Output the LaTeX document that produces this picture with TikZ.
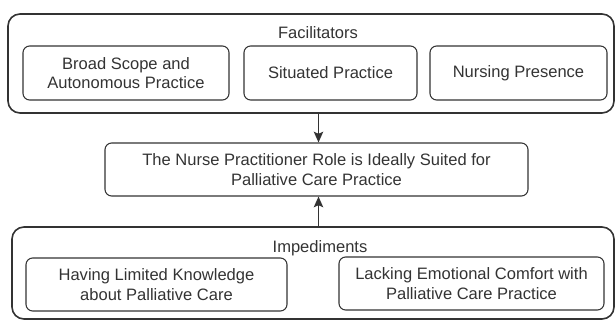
\documentclass[tikz,border=0pt]{standalone}
\usepackage{fontspec}
\setmainfont{Liberation Sans}
\usetikzlibrary{arrows.meta}
\definecolor{ink}{HTML}{333333}
\tikzset{
  outerbox/.style={draw=ink, line width=1.2pt, rounded corners=9pt, inner sep=0pt},
  innerbox/.style={draw=ink, line width=0.8pt, rounded corners=5pt, align=center, inner sep=0pt, text=ink,
    font=\fontsize{12.4pt}{14.6pt}\selectfont},
  lbl/.style={text=ink, font=\fontsize{12.4pt}{14.6pt}\selectfont, inner sep=0pt},
  conn/.style={draw=ink, line width=1.3pt, -{Stealth[length=8pt,width=7pt,inset=1.5pt]}}
}
\begin{document}
\begin{tikzpicture}[x=0.75pt,y=-0.75pt]
\useasboundingbox (0,0) rectangle (615,320);
% Facilitators group
\node[outerbox, minimum width=606*0.75pt, minimum height=99*0.75pt] (fac) at (311,63.5) {};
\node[lbl] (facl) at (318,33) {Facilitators};
\node[innerbox, minimum width=206*0.75pt, minimum height=54*0.75pt] (f1) at (126,73) {Broad Scope and\\Autonomous Practice};
\node[innerbox, minimum width=173*0.75pt, minimum height=54*0.75pt] (f2) at (330.5,73) {Situated Practice};
\node[innerbox, minimum width=177*0.75pt, minimum height=54*0.75pt] (f3) at (518.5,73) {Nursing Presence};
% Middle
\node[innerbox, minimum width=423*0.75pt, minimum height=53*0.75pt] (mid) at (316.5,169.5) {The Nurse Practitioner Role is Ideally Suited for\\Palliative Care Practice};
% Impediments group
\node[outerbox, minimum width=602*0.75pt, minimum height=92*0.75pt] (imp) at (313,273) {};
\node[lbl] (impl) at (320,248) {Impediments};
\node[innerbox, minimum width=261*0.75pt, minimum height=53*0.75pt] (i1) at (156.5,284.5) {Having Limited Knowledge\\about Palliative Care};
\node[innerbox, minimum width=265*0.75pt, minimum height=53*0.75pt] (i2) at (471.5,283.5) {Lacking Emotional Comfort with\\Palliative Care Practice};
% connectors
\coordinate (ax) at (318.5,0);
\draw[conn] (fac.south -| ax) -- (mid.north -| ax);
\draw[conn] (imp.north -| ax) -- (mid.south -| ax);
\end{tikzpicture}
\end{document}
